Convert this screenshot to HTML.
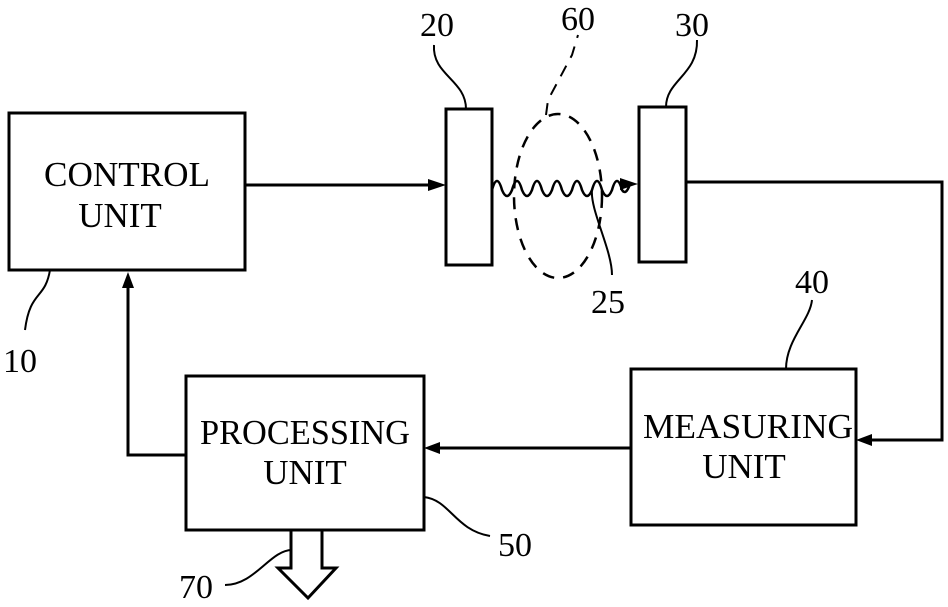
<!DOCTYPE html>
<html><head><style>
body{margin:0;background:#fff}
svg text{font-family:"Liberation Serif",serif;fill:#000}
</style></head><body>
<svg width="948" height="602" viewBox="0 0 948 602" xmlns="http://www.w3.org/2000/svg">
<g fill="none" stroke="#000" stroke-width="3">
<rect x="9" y="113" width="236" height="157"/>
<rect x="446" y="109" width="46" height="156"/>
<rect x="639" y="107" width="47" height="155"/>
<rect x="631" y="369" width="225" height="156"/>
<rect x="186" y="376" width="238" height="154"/>
<path d="M245 185H432"/>
<path d="M686 182H942V440H870"/>
<path d="M631 448H438"/>
<path d="M186 455H128V285"/>
<path d="M492 190 q5 -18 10 0 q5 12 10 0 q5 -18 10 0 q5 12 10 0 q5 -18 10 0 q5 12 10 0 q5 -18 10 0 q5 12 10 0 q5 -18 10 0 q5 12 10 0 q5 -18 10 0 q5 12 10 0 q5 -18 10 0 q4 6 8 -6 H625" stroke-width="2.5"/>
<ellipse cx="558" cy="196" rx="44" ry="82" stroke-width="2.5" stroke-dasharray="12,9"/>
<path d="M546 115 L548 100 L572 55 L578 35" stroke-width="2" stroke-dasharray="12,9"/>
<path d="M291 530V568H278L308 598L336 568H322V530" stroke-width="3"/>
</g>
<g fill="none" stroke="#000" stroke-width="2">
<path d="M466 109 C466 80 432 75 434 45"/>
<path d="M666 107 C666 80 698 75 697 40"/>
<path d="M592 190 C590 210 612 250 612 275"/>
<path d="M50 270 C45 300 30 290 25 330"/>
<path d="M786 369 C786 340 810 320 812 300"/>
<path d="M424 497 C450 500 455 530 490 536"/>
<path d="M292 550 C270 550 255 585 225 585"/>
</g>
<g fill="#000">
<path d="M446 185 L428 179 L428 191Z"/>
<path d="M638 184 L620 178 L620 190Z"/>
<path d="M856 440 L872 434 L872 446Z"/>
<path d="M424 448 L440 442 L440 454Z"/>
<path d="M128 272 L122 288 L134 288Z"/>
</g>
<g font-size="35" text-anchor="middle">
<text x="127" y="186" textLength="166" lengthAdjust="spacingAndGlyphs">CONTROL</text>
<text x="120" y="227">UNIT</text>
<text x="305" y="444" textLength="210" lengthAdjust="spacingAndGlyphs">PROCESSING</text>
<text x="305" y="484">UNIT</text>
<text x="748" y="438" textLength="210" lengthAdjust="spacingAndGlyphs">MEASURING</text>
<text x="744" y="478">UNIT</text>
</g>
<g font-size="34" text-anchor="middle">
<text x="437" y="36">20</text>
<text x="578" y="30">60</text>
<text x="692" y="36">30</text>
<text x="812" y="293">40</text>
<text x="608" y="313">25</text>
<text x="20" y="372">10</text>
<text x="515" y="556">50</text>
<text x="196" y="598">70</text>
</g>
</svg>
</body></html>
